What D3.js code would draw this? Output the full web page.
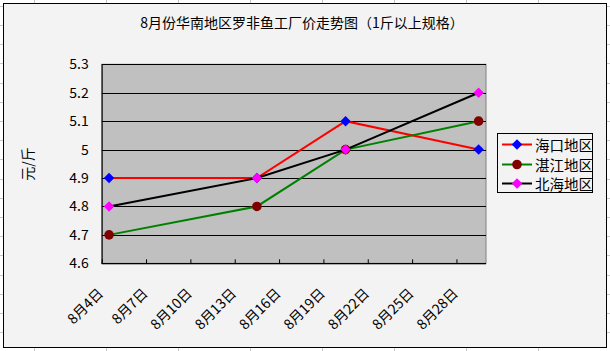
<!DOCTYPE html>
<html><head><meta charset="utf-8">
<script src="https://cdn.jsdelivr.net/npm/d3@7"></script>
<style>html,body{margin:0;padding:0;background:#fff;}svg{display:block;}</style>
</head><body>
<svg id="c" width="610" height="351"></svg>
<script>
// ---- data ----
const title = "8月份华南地区罗非鱼工厂价走势图（1斤以上规格）";
const yTitle = "元/斤";
const pointDays = [4, 14, 20, 29];            // August day of each observation
const seriesNames = ["海口地区", "湛江地区", "北海地区"];
const haikou = [4.9, 4.9, 5.1, 5.0];
const zhanjiang = [4.7, 4.8, 5.0, 5.1];
const beihai = [4.8, 4.9, 5.0, 5.2];
const tickDays = [4, 7, 10, 13, 16, 19, 22, 25, 28];
const tickLabels = ["8月4日", "8月7日", "8月10日", "8月13日", "8月16日", "8月19日", "8月22日", "8月25日", "8月28日"];
const yTicks = [4.6, 4.7, 4.8, 4.9, 5.0, 5.1, 5.2, 5.3];
const yTickLabels = ["4.6", "4.7", "4.8", "4.9", "5", "5.1", "5.2", "5.3"];

const styles = [
  {line: "#ff0000", fill: "#0000ff", shape: "diamond"},
  {line: "#008000", fill: "#800000", shape: "circle"},
  {line: "#000000", fill: "#ff00ff", shape: "diamond"}
];
const allSeries = [haikou, zhanjiang, beihai];

const font = "'Noto Sans CJK SC', 'Noto Sans', sans-serif";
const fs = 14;

const svg = d3.select("#c");
// spreadsheet background grid
const bg = svg.append("g");
d3.range(0, 12).forEach(i => {
  const x = 34 + i * 72;
  bg.append("line").attr("x1", x + 0.5).attr("x2", x + 0.5).attr("y1", 0).attr("y2", 351).attr("stroke", "#c8c8c8");
});
d3.range(-3, 16).forEach(i => {
  const y = Math.round(63.3 + i * 19.2);
  bg.append("line").attr("x1", 0).attr("x2", 610).attr("y1", y + 0.5).attr("y2", y + 0.5).attr("stroke", "#c8c8c8");
});

// chart area
svg.append("rect").attr("x", 3.5).attr("y", 3.5).attr("width", 603).attr("height", 344)
  .attr("fill", "#f3f3f3").attr("stroke", "#000").attr("stroke-width", 1);

const L = 101.7, R = 486, T = 64.3, B = 263.3;
const x = d3.scaleLinear().domain([4, 30]).range([L, R]);
const y = d3.scaleLinear().domain([4.6, 5.3]).range([B, T]);

// plot area
svg.append("rect").attr("x", L).attr("y", T).attr("width", R - L).attr("height", B - T)
  .attr("fill", "#c0c0c0").attr("stroke", "#808080");

// gridlines
svg.append("g").selectAll("line").data(yTicks).join("line")
  .attr("x1", L).attr("x2", R)
  .attr("y1", d => Math.round(y(d)) + 0.5).attr("y2", d => Math.round(y(d)) + 0.5)
  .attr("stroke", "#000");

// y axis
const yAxis = d3.axisLeft(y).tickValues(yTicks).tickSize(0).tickPadding(13)
  .tickFormat((d, i) => yTickLabels[i]);
const gy = svg.append("g").attr("transform", `translate(${L},0)`).call(yAxis);
gy.select(".domain").attr("stroke", "#000");
gy.selectAll("text").attr("font-family", font).attr("font-size", fs).attr("fill", "#000");

// x axis
const xAxis = d3.axisBottom(x).tickValues(tickDays).tickSize(-4)
  .tickFormat((d, i) => tickLabels[i]);
const gx = svg.append("g").attr("transform", `translate(0,${B})`).call(xAxis);
gx.select(".domain").attr("stroke", "#000").attr("d", `M${L},0.5H${R}`);
gx.selectAll(".tick line").attr("stroke", "#000");
gx.selectAll("text").attr("font-family", font).attr("font-size", fs).attr("fill", "#000")
  .attr("text-anchor", "end").attr("dy", null).attr("y", 0)
  .attr("transform", "translate(2,31) rotate(-45)");

// series
const line = d3.line().x((d, i) => x(pointDays[i] + 0.5)).y(d => y(d));
allSeries.forEach((vals, si) => {
  const st = styles[si];
  const g = svg.append("g");
  g.append("path").datum(vals).attr("d", line).attr("fill", "none")
    .attr("stroke", st.line).attr("stroke-width", 2);
  vals.forEach((v, i) => {
    const cx = x(pointDays[i] + 0.5), cy = y(v);
    if (st.shape === "circle") {
      g.append("circle").attr("cx", cx).attr("cy", cy).attr("r", 4.8).attr("fill", st.fill);
    } else {
      g.append("path").attr("d", d3.symbol().type(d3.symbolSquare).size(55)())
        .attr("transform", `translate(${cx},${cy}) rotate(45)`).attr("fill", st.fill);
    }
  });
});

// legend
const lg = svg.append("g");
lg.append("rect").attr("x", 497.5).attr("y", 133.5).attr("width", 95).attr("height", 59)
  .attr("fill", "#f3f3f3").attr("stroke", "#000");
const legY = [144.5, 164.5, 183.5];
seriesNames.forEach((n, i) => {
  const st = styles[i];
  lg.append("line").attr("x1", 502).attr("x2", 532).attr("y1", legY[i]).attr("y2", legY[i])
    .attr("stroke", st.line).attr("stroke-width", 2);
  if (st.shape === "circle") {
    lg.append("circle").attr("cx", 517).attr("cy", legY[i]).attr("r", 4.8).attr("fill", st.fill);
  } else {
    lg.append("path").attr("d", d3.symbol().type(d3.symbolSquare).size(55)())
      .attr("transform", `translate(517,${legY[i]}) rotate(45)`).attr("fill", st.fill);
  }
  lg.append("text").attr("x", 535).attr("y", legY[i]).attr("dominant-baseline", "central")
    .attr("font-family", font).attr("font-size", fs + 0.5).attr("fill", "#000").text(n);
});

// titles
svg.append("text").attr("x", 302).attr("y", 22).attr("text-anchor", "middle")
  .attr("dominant-baseline", "central").attr("font-family", font).attr("font-size", fs)
  .attr("fill", "#000").text(title);
svg.append("text").attr("transform", "translate(27,164) rotate(-90)").attr("text-anchor", "middle")
  .attr("dominant-baseline", "central").attr("font-family", font).attr("font-size", fs)
  .attr("fill", "#000").text(yTitle);
</script>
</body></html>
